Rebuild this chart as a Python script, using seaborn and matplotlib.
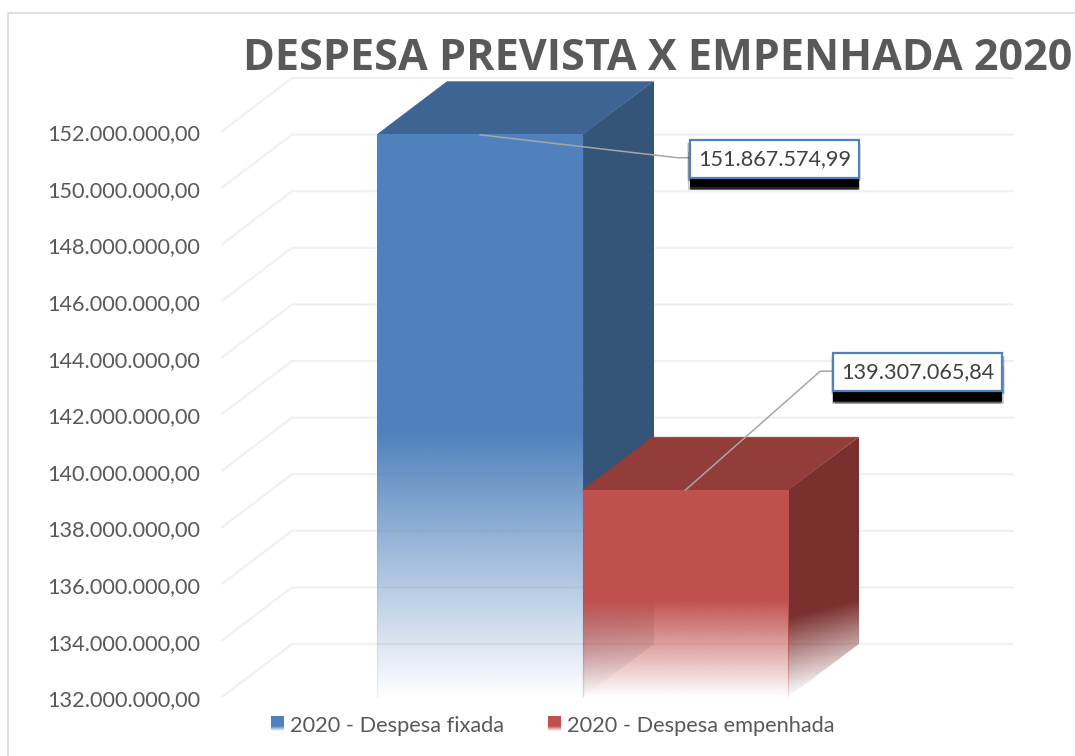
import numpy as np
import pandas as pd
import matplotlib
matplotlib.use("Agg")
import matplotlib.pyplot as plt
import matplotlib.patheffects as pe
from matplotlib.colors import to_rgb
from matplotlib.legend_handler import HandlerBase
from matplotlib.lines import Line2D
from matplotlib.patches import Patch, Polygon, Rectangle
from matplotlib.transforms import IdentityTransform, Affine2D, ScaledTranslation
import seaborn as sns

TITLE = "DESPESA PREVISTA X EMPENHADA 2020"
SERIES = ["2020 - Despesa fixada", "2020 - Despesa empenhada"]
POSITIONS = [0, 1]
VALUES = [151867574.99, 139307065.84]
VALUE_LABELS = ["151.867.574,99", "139.307.065,84"]
Y_TICKS = [132e6, 134e6, 136e6, 138e6, 140e6, 142e6, 144e6, 146e6, 148e6, 150e6, 152e6]
FRONT = ["#4F81BD", "#C0504D"]
TOP = ["#3D6492", "#933D3A"]
SIDE = ["#345578", "#7A302E"]
FONT = "Lato"

W, H = 1075, 756
sns.set_theme(style="white")
plt.rcParams["font.family"] = [FONT, "DejaVu Sans"]
fig = plt.figure(figsize=(W / 100, H / 100), dpi=100, facecolor="white")
ax = fig.add_axes([222 / W, 1 - 697 / H, (943 - 222) / W, (697 - 131) / H])
ax.patch.set_alpha(0)

df = pd.DataFrame({"pos": POSITIONS, "serie": SERIES, "valor": VALUES})
sns.barplot(data=df, x="pos", y="valor", hue="serie", palette=FRONT, width=1.0, native_scale=True,
            dodge=False, legend=False, ax=ax, zorder=5)
ax.set_xlim(-1.254, 2.254)
ax.set_ylim(Y_TICKS[0], Y_TICKS[-1])
sns.despine(ax=ax, left=True, bottom=True)
ax.set_xticks([])
ax.set_xlabel("")
ax.set_ylabel("")
ax.set_yticks(Y_TICKS)
ax.set_yticklabels([f"{v:,.2f}".replace(",", "X").replace(".", ",").replace("X", ".") for v in Y_TICKS],
                   fontsize=15.6, color="#595959")
ax.tick_params(axis="y", length=0, pad=15.8)
ax.grid(False)
shift = ScaledTranslation(0, -1.0 / 72, fig.dpi_scale_trans)
for lab in ax.get_yticklabels():
    lab.set_transform(lab.get_transform() + shift)

BASE = Y_TICKS[0]
DX = 70 / 205.5          # depth of the 3D effect, in category units
DY = 53 / 28.3 * 1e6     # depth of the 3D effect, in value units
FADE_FRONT = 0.47        # share of bar height, from the bottom, where the front's fade begins
FADE_SIDE = 0.38         # the same for a side face
SIDE_SLANT = 0.65        # how far the fade on a side face stays behind the face's own slant

# back wall and side wall gridlines
GRID = "#F0F0F0"
xl, xr = ax.get_xlim()
for v in Y_TICKS:
    ax.plot([xl, xl + DX, xr + DX], [v, v + DY, v + DY], color=GRID, lw=1.5, clip_on=False, zorder=1,
            solid_joinstyle="miter")


def face(x0, x1, top, color, skewed, z):
    """Vertical face from BASE to top with a bottom fade; a skewed face runs backwards."""
    n, m = 256, 48 if skewed else 1
    v = (np.arange(n) + 0.5) / n
    u = (np.arange(m) + 0.5) / m if skewed else np.zeros(1)
    height = top - BASE
    fade = FADE_SIDE if skewed else FADE_FRONT
    rgba = np.zeros((n, m, 4))
    rgba[:, :, :3] = to_rgb(color)
    rgba[:, :, 3] = np.clip((v[:, None] * height + SIDE_SLANT * u[None, :] * DY) / (fade * height), 0, 1)
    trans = ax.transData
    if skewed:
        k = DY / (x1 - x0)
        trans = Affine2D(np.array([[1, 0, 0], [k, 1, -k * x0], [0, 0, 1]], dtype=float)) + ax.transData
    ax.imshow(rgba, extent=(x0, x1, BASE, top), origin="lower", aspect="auto", transform=trans,
              interpolation="bilinear", interpolation_stage="rgba", clip_on=False, zorder=z)


bars = list(ax.patches)
for i, bar in enumerate(bars):
    x0, x1 = bar.get_x(), bar.get_x() + bar.get_width()
    top = bar.get_height()
    bar.set_facecolor("none")
    bar.set_edgecolor("none")
    z = 3 + i * 3
    face(x1, x1 + DX, top, SIDE[i], True, z)
    ax.add_patch(Polygon([(x0, top), (x1, top), (x1 + DX, top + DY), (x0 + DX, top + DY)],
                         closed=True, facecolor=TOP[i], edgecolor=TOP[i], lw=0.5,
                         clip_on=False, zorder=z))
    face(x0, x1, top, FRONT[i], False, z + 1)
    ax.vlines([x0, x1], BASE, top, color=FRONT[i], alpha=0.12, lw=1, zorder=z + 1.5, clip_on=False)
ax.set_xlim(xl, xr)
ax.set_ylim(Y_TICKS[0], Y_TICKS[-1])

# data labels with leader lines and soft shadows
TI = IdentityTransform()
LABEL_OFFSETS = [(210, 5, 379, 43), (148, -137, 317, -99)]
LEADER_OFFSETS = [[(198, 23), (210, 23)], [(135, -119), (148, -119)]]
P = 0.72  # points per pixel
for i, bar in enumerate(bars):
    ax_x, ax_y = ax.transData.transform((bar.get_x() + bar.get_width() / 2, bar.get_height()))
    l, t, r, b = LABEL_OFFSETS[i]
    pts = [(ax_x, ax_y)] + [(ax_x + a, ax_y - c) for a, c in LEADER_OFFSETS[i]]
    fig.add_artist(Line2D([p[0] for p in pts], [p[1] for p in pts], transform=TI,
                          color="#A6A6A6", lw=1.1, zorder=20))
    rect = Rectangle((ax_x + l, ax_y - b), r - l, b - t, transform=TI, facecolor="white",
                     edgecolor="#4F81BD", lw=1.6, zorder=21)
    effects = []
    for ox, oy, alpha in [(-2.5, -3, 0.12), (2.5, -3, 0.12), (-1.5, -3, 0.2), (1.5, -3, 0.2),
                          (-1.5, -12.5, 0.2), (1.5, -12.5, 0.2), (0, -12, 0.4), (0, -11, 0.6)]:
        effects.append(pe.SimplePatchShadow(offset=(ox * P, oy * P), shadow_rgbFace="black", alpha=alpha))
    effects.append(pe.SimplePatchShadow(offset=(0, -9.5 * P), shadow_rgbFace="black", alpha=1))
    effects.append(pe.Normal())
    rect.set_path_effects(effects)
    fig.add_artist(rect)
    fig.text((ax_x + (l + r) / 2) / W, (ax_y - (t + b) / 2) / H, VALUE_LABELS[i], ha="center",
             va="center", fontsize=15.6, color="#404040", zorder=22)

fig.text(243 / W, 1 - 69.5 / H, TITLE, fontsize=31.1, fontweight="bold", color="#595959",
         ha="left", va="baseline", family=["Open Sans", "DejaVu Sans"], zorder=30)


class GradHandler(HandlerBase):
    def create_artists(self, legend, orig, xd, yd, width, height, fontsize, trans):
        out = []
        n = 14
        base = to_rgb(orig.get_facecolor()[:3])
        for k in range(n):
            a = min(1, ((k + 0.5) / n) / 0.35)
            c = tuple(a * b + (1 - a) * 1 for b in base)
            out.append(Rectangle((-xd, -yd + height * k / n), width, height / n + 0.2,
                                 facecolor=c, edgecolor="none", transform=trans))
        return out


handles = [Patch(facecolor=c, label=s) for c, s in zip(FRONT, SERIES)]
leg = fig.legend(handles=handles, loc="center", bbox_to_anchor=(553 / W, 1 - 725.5 / H), ncol=2,
                 frameon=False, fontsize=15.7, labelcolor="#595959", handler_map={Patch: GradHandler()},
                 handlelength=0.6, handleheight=0.65, handletextpad=0.28, columnspacing=2.0,
                 borderpad=0)

# chart frame, running off the right and bottom of the picture
fig.add_artist(Line2D([7.5, 7.5, W + 5], [-5, H - 12.5, H - 12.5], transform=TI, color="#D9D9D9", lw=1.2))

fig.savefig("out.png", dpi=100, facecolor="white")
